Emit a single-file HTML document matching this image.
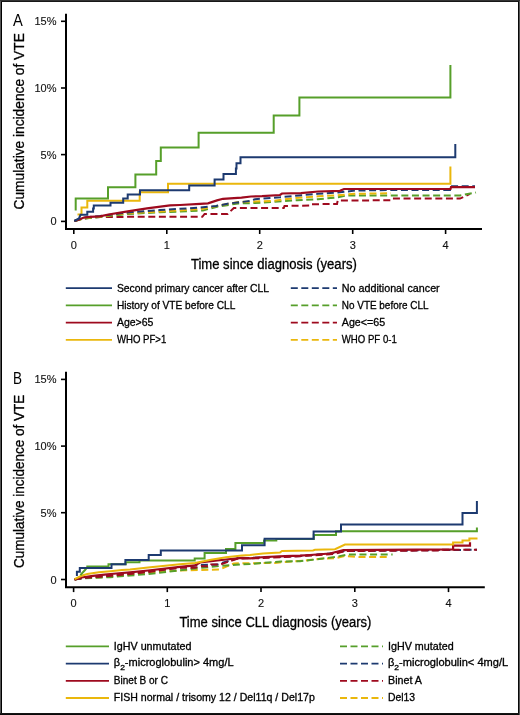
<!DOCTYPE html>
<html><head><meta charset="utf-8"><title>Cumulative incidence of VTE</title>
<style>html,body{margin:0;padding:0;background:#fff;} body{width:520px;height:715px;overflow:hidden;font-family:"Liberation Sans", sans-serif;} svg{display:block;will-change:transform;}</style>
</head><body>
<svg width="520" height="715" viewBox="0 0 520 715">
<rect x="0" y="0" width="520" height="715" fill="#fff"/>
<text x="13.1" y="25.8" font-size="16.5" font-family="Liberation Sans, sans-serif" fill="#000" textLength="9.8" lengthAdjust="spacingAndGlyphs">A</text>
<text transform="translate(23.7,121.35) rotate(-90)" text-anchor="middle" font-size="13.8" font-family="Liberation Sans, sans-serif" fill="#000" stroke="#000" stroke-width="0.3" textLength="176.3" lengthAdjust="spacingAndGlyphs">Cumulative incidence of VTE</text>
<text x="273.9" y="268.7" text-anchor="middle" font-size="13.8" font-family="Liberation Sans, sans-serif" fill="#000" stroke="#000" stroke-width="0.3" textLength="166" lengthAdjust="spacingAndGlyphs">Time since diagnosis (years)</text>
<line x1="66" y1="13.7" x2="66" y2="230" stroke="#000" stroke-width="2"/>
<line x1="65" y1="229.1" x2="482" y2="229.1" stroke="#000" stroke-width="2"/>
<line x1="61" y1="21.3" x2="66" y2="21.3" stroke="#000" stroke-width="1.6"/>
<text x="56.5" y="25.3" text-anchor="end" font-size="11" font-family="Liberation Sans, sans-serif" fill="#111" stroke="#111" stroke-width="0.12">15%</text>
<line x1="61" y1="88" x2="66" y2="88" stroke="#000" stroke-width="1.6"/>
<text x="56.5" y="92" text-anchor="end" font-size="11" font-family="Liberation Sans, sans-serif" fill="#111" stroke="#111" stroke-width="0.12">10%</text>
<line x1="61" y1="154.6" x2="66" y2="154.6" stroke="#000" stroke-width="1.6"/>
<text x="56.5" y="158.6" text-anchor="end" font-size="11" font-family="Liberation Sans, sans-serif" fill="#111" stroke="#111" stroke-width="0.12">5%</text>
<line x1="61" y1="221.4" x2="66" y2="221.4" stroke="#000" stroke-width="1.6"/>
<text x="56.5" y="225.4" text-anchor="end" font-size="11" font-family="Liberation Sans, sans-serif" fill="#111" stroke="#111" stroke-width="0.12">0</text>
<line x1="73.8" y1="229" x2="73.8" y2="234" stroke="#000" stroke-width="1.6"/>
<text x="73.8" y="248.8" text-anchor="middle" font-size="11" font-family="Liberation Sans, sans-serif" fill="#111" stroke="#111" stroke-width="0.12">0</text>
<line x1="166.8" y1="229" x2="166.8" y2="234" stroke="#000" stroke-width="1.6"/>
<text x="166.8" y="248.8" text-anchor="middle" font-size="11" font-family="Liberation Sans, sans-serif" fill="#111" stroke="#111" stroke-width="0.12">1</text>
<line x1="259.7" y1="229" x2="259.7" y2="234" stroke="#000" stroke-width="1.6"/>
<text x="259.7" y="248.8" text-anchor="middle" font-size="11" font-family="Liberation Sans, sans-serif" fill="#111" stroke="#111" stroke-width="0.12">2</text>
<line x1="352.7" y1="229" x2="352.7" y2="234" stroke="#000" stroke-width="1.6"/>
<text x="352.7" y="248.8" text-anchor="middle" font-size="11" font-family="Liberation Sans, sans-serif" fill="#111" stroke="#111" stroke-width="0.12">3</text>
<line x1="445.6" y1="229" x2="445.6" y2="234" stroke="#000" stroke-width="1.6"/>
<text x="445.6" y="248.8" text-anchor="middle" font-size="11" font-family="Liberation Sans, sans-serif" fill="#111" stroke="#111" stroke-width="0.12">4</text>
<text x="13.1" y="383.9" font-size="16.5" font-family="Liberation Sans, sans-serif" fill="#000" textLength="9.0" lengthAdjust="spacingAndGlyphs">B</text>
<text transform="translate(23.7,481.30) rotate(-90)" text-anchor="middle" font-size="13.8" font-family="Liberation Sans, sans-serif" fill="#000" stroke="#000" stroke-width="0.3" textLength="173.2" lengthAdjust="spacingAndGlyphs">Cumulative incidence of VTE</text>
<text x="275.4" y="626.8" text-anchor="middle" font-size="13.8" font-family="Liberation Sans, sans-serif" fill="#000" stroke="#000" stroke-width="0.3" textLength="192" lengthAdjust="spacingAndGlyphs">Time since CLL diagnosis (years)</text>
<line x1="66" y1="371.8" x2="66" y2="588.1" stroke="#000" stroke-width="2"/>
<line x1="65" y1="587.2" x2="484.8" y2="587.2" stroke="#000" stroke-width="2"/>
<line x1="61" y1="379.40000000000003" x2="66" y2="379.40000000000003" stroke="#000" stroke-width="1.6"/>
<text x="56.5" y="383.40000000000003" text-anchor="end" font-size="11" font-family="Liberation Sans, sans-serif" fill="#111" stroke="#111" stroke-width="0.12">15%</text>
<line x1="61" y1="446.1" x2="66" y2="446.1" stroke="#000" stroke-width="1.6"/>
<text x="56.5" y="450.1" text-anchor="end" font-size="11" font-family="Liberation Sans, sans-serif" fill="#111" stroke="#111" stroke-width="0.12">10%</text>
<line x1="61" y1="512.7" x2="66" y2="512.7" stroke="#000" stroke-width="1.6"/>
<text x="56.5" y="516.7" text-anchor="end" font-size="11" font-family="Liberation Sans, sans-serif" fill="#111" stroke="#111" stroke-width="0.12">5%</text>
<line x1="61" y1="579.5" x2="66" y2="579.5" stroke="#000" stroke-width="1.6"/>
<text x="56.5" y="583.5" text-anchor="end" font-size="11" font-family="Liberation Sans, sans-serif" fill="#111" stroke="#111" stroke-width="0.12">0</text>
<line x1="73.6" y1="587.1" x2="73.6" y2="592.1" stroke="#000" stroke-width="1.6"/>
<text x="73.6" y="606.9000000000001" text-anchor="middle" font-size="11" font-family="Liberation Sans, sans-serif" fill="#111" stroke="#111" stroke-width="0.12">0</text>
<line x1="167.3" y1="587.1" x2="167.3" y2="592.1" stroke="#000" stroke-width="1.6"/>
<text x="167.3" y="606.9000000000001" text-anchor="middle" font-size="11" font-family="Liberation Sans, sans-serif" fill="#111" stroke="#111" stroke-width="0.12">1</text>
<line x1="261.0" y1="587.1" x2="261.0" y2="592.1" stroke="#000" stroke-width="1.6"/>
<text x="261.0" y="606.9000000000001" text-anchor="middle" font-size="11" font-family="Liberation Sans, sans-serif" fill="#111" stroke="#111" stroke-width="0.12">2</text>
<line x1="354.8" y1="587.1" x2="354.8" y2="592.1" stroke="#000" stroke-width="1.6"/>
<text x="354.8" y="606.9000000000001" text-anchor="middle" font-size="11" font-family="Liberation Sans, sans-serif" fill="#111" stroke="#111" stroke-width="0.12">3</text>
<line x1="448.5" y1="587.1" x2="448.5" y2="592.1" stroke="#000" stroke-width="1.6"/>
<text x="448.5" y="606.9000000000001" text-anchor="middle" font-size="11" font-family="Liberation Sans, sans-serif" fill="#111" stroke="#111" stroke-width="0.12">4</text>
<path d="M 74.5,221 L 80,219.2 L 88,218 L 96,217.3 L 100,216.9 L 202.3,216.8 L 204.6,213.9 L 227.7,213.9 L 233.8,208 L 283.8,207.9 L 284.5,206 L 310.8,205.5 L 311.5,204.2 L 337,204 L 337.7,200.5 L 391,200.3 L 392,198.6 L 460,198.6 L 470,193.8" transform="translate(0,0)" fill="none" stroke="#9e0a1e" stroke-width="2" stroke-dasharray="7,3.6" stroke-linejoin="miter" stroke-linecap="butt"/>
<path d="M 74.5,221 L 85,218.5 L 100,217 L 128,214 L 160,212.3 L 180,211.5 L 203,210.4 L 218,206.5 L 238,203.5 L 255,203 L 278,201.5 L 297,200.2 L 318,199.2 L 338,197.3 L 347,195.4 L 460,195.5 L 476,192.5" transform="translate(0,0)" fill="none" stroke="#569f2a" stroke-width="2" stroke-dasharray="7,3.6" stroke-linejoin="miter" stroke-linecap="butt"/>
<path d="M 74.5,221 L 85,218 L 100,216.5 L 128,213.2 L 160,211.5 L 180,210.4 L 203,208.8 L 218,205.8 L 238,202 L 255,201.5 L 274,200.8 L 293,198.3 L 318,196.3 L 336,195.4 L 355,193.8 L 391,193.3" transform="translate(0,0)" fill="none" stroke="#eab70c" stroke-width="2" stroke-dasharray="7,3.6" stroke-linejoin="miter" stroke-linecap="butt"/>
<path d="M 74.5,221 L 85,217.5 L 100,216 L 128,212.5 L 160,210 L 180,208.8 L 200,207.5 L 216,206 L 229,203.5 L 250,201 L 255,199.2 L 280,197.3 L 299,195.4 L 318,193.8 L 338,192.5 L 355,190.6 L 390,190 L 450,190 L 451,186.3 L 475,186.3" transform="translate(0,0)" fill="none" stroke="#1d3a70" stroke-width="2" stroke-dasharray="7,3.6" stroke-linejoin="miter" stroke-linecap="butt"/>
<path d="M 74.5,221 L 79,219.5 L 84,217.5 L 90,216.8 L 100,216.3 L 108.5,214.5 L 127.7,211.3 L 147,208.3 L 170,205.4 L 180,205 L 200,203.8 L 208,203.3 L 217,200.4 L 223,198.8 L 241.5,197.6 L 251,196.5 L 262,196.2 L 280,195 L 282,193.5 L 301,193.1 L 318,191.5 L 340,190.8 L 344,189 L 450.5,189 L 451,187.2 L 475,187.2" transform="translate(0,0)" fill="none" stroke="#9e0a1e" stroke-width="2.2" stroke-linejoin="miter" stroke-linecap="butt"/>
<path d="M 77.5 214.4 H 81.5 V 207.5 H 87.3 V 200.8 H 139.7 V 192.3 H 168 V 183.7 H 450.4 V 166.5" transform="translate(0,0)" fill="none" stroke="#eab70c" stroke-width="2" stroke-linejoin="miter" stroke-linecap="butt"/>
<path d="M 74.3 221 L 79 218.5 L 80.5 214.8 H 87.3 V 211.8 H 93.1 V 208.4 H 93.8 V 205.6 H 110.5 V 202.7 H 123.2 V 198.5 H 127.7 V 194.6 H 140 V 190.3 H 189.2 V 185.6 H 214.6 V 179.5 H 223.5 V 174.1 H 235.9 V 168.6 H 236.5 V 163.2 H 240.5 V 157.2 H 455.3 V 144" transform="translate(0,0)" fill="none" stroke="#1d3a70" stroke-width="2" stroke-linejoin="miter" stroke-linecap="butt"/>
<path d="M 75.7 210.6 V 198.6 H 108 V 187.3 H 135.4 V 174.6 H 156.2 V 161 H 160.8 V 147.4 H 198.6 V 132.7 H 273.7 V 115.6 H 299.4 V 97.6 H 450.4 V 65" transform="translate(0,0)" fill="none" stroke="#569f2a" stroke-width="2" stroke-linejoin="miter" stroke-linecap="butt"/>
<path d="M 74.6,579.5 L 82,578 L 100,577.2 L 110,576.2 L 130,574.5 L 148,572.3 L 180,570.5 L 220,569.5 L 224.6,567.4 L 230.8,564.6 L 234,563.4 L 275,563 L 281,562.2 L 293,561.5 L 305,560.5 L 320,558.8 L 335,558.3 L 345,556 L 360,557 L 390,557" transform="translate(0,0)" fill="none" stroke="#eab70c" stroke-width="2" stroke-dasharray="7,3.6" stroke-linejoin="miter" stroke-linecap="butt"/>
<path d="M 74.6,579.5 L 85,578.2 L 110,577.2 L 130,575.5 L 148,574 L 200,568 L 220,566 L 232,565 L 250,564 L 281,561.5 L 300,561.2 L 315,559.5 L 335,557 L 348,554.6 L 392.6,554.6" transform="translate(0,0)" fill="none" stroke="#569f2a" stroke-width="2" stroke-dasharray="7,3.6" stroke-linejoin="miter" stroke-linecap="butt"/>
<path d="M 74.6,579.5 L 85,577.5 L 100,576 L 130,573.5 L 148,571.5 L 200,565 L 217,564.6 L 229,560.8 L 238,558.3 L 260,557.5 L 300,556 L 335,553 L 345,551 L 453,550 L 477,549.7" transform="translate(0,0)" fill="none" stroke="#1d3a70" stroke-width="2" stroke-dasharray="7,3.6" stroke-linejoin="miter" stroke-linecap="butt"/>
<path d="M 74.6,579.5 L 85,577.8 L 100,576.8 L 130,574 L 148,572 L 180,567.7 L 195,567.7 L 201.5,566.2 L 210,566.2 L 211,564.6 L 220,564.6 L 229,561.5 L 238,558.5 L 260,558.2 L 300,556.2 L 335,553.8 L 345,551 L 440,550.5 L 441,549.8 L 477,549.8" transform="translate(0,0)" fill="none" stroke="#9e0a1e" stroke-width="2" stroke-dasharray="7,3.6" stroke-linejoin="miter" stroke-linecap="butt"/>
<path d="M 74.6,579.5 L 81.5,577.5 L 93,575.8 L 104.6,574.6 L 116.2,573.5 L 130,572.3 L 148,570.5 L 180,566.9 L 195,565.4 L 200,562.5 L 211,561.2 L 226,559.5 L 242,557.8 L 250,558.3 L 265,557 L 285,556.2 L 300,555.7 L 310,555 L 330,553.5 L 343.4,550.1 L 453.1,549.4 L 453.1,545.6 L 470,545.6 L 470,542.2" transform="translate(0,0)" fill="none" stroke="#9e0a1e" stroke-width="2.2" stroke-linejoin="miter" stroke-linecap="butt"/>
<path d="M 74.6,579.2 L 78,577.5 L 81.5,575.8 L 87.3,574 L 98.8,572.3 L 110.4,571.2 L 122,570 L 130,569.4 L 148,567.6 L 180,564.3 L 195,563 L 211,559.7 L 226,557.2 L 242,555.5 L 250,555 L 263,553.5 L 280,552.5 L 282,551 L 313,550.5 L 315,549.8 L 335,549.2 L 345,544.5 L 453.1,544.5 L 453.1,542.5 L 462.5,542.5 L 462.5,540.6 L 469.4,540.6 L 469.4,538.5 L 477.5,538.5" transform="translate(0,0)" fill="none" stroke="#eab70c" stroke-width="2" stroke-linejoin="miter" stroke-linecap="butt"/>
<path d="M 80.4 575.2 L 85 570 L 87.3 567.1 V 566.5 H 108.5 V 564.2 H 125.7 V 562.3 H 139.5 V 560.6 H 194.7 V 558.5 H 204.6 V 553 H 226 V 548.9 H 235.4 V 543 H 264 V 540.5 H 276.3 V 538.9 H 313.8 V 534.9 H 336 V 531.2 H 476.9 V 527.5" transform="translate(0,0)" fill="none" stroke="#569f2a" stroke-width="2" stroke-linejoin="miter" stroke-linecap="butt"/>
<path d="M 76.9 576 V 571.7 H 79.8 V 568 H 111.5 V 564.2 H 125.4 V 560 H 148.7 V 555 H 160.8 V 550.6 H 242 V 545.2 H 264.6 V 538.8 H 313.6 V 531.6 H 341 V 524.6 H 462.5 V 513.1 H 476.9 V 501" transform="translate(0,0)" fill="none" stroke="#1d3a70" stroke-width="2" stroke-linejoin="miter" stroke-linecap="butt"/>
<line x1="65.8" y1="288.1" x2="112" y2="288.1" stroke="#1d3a70" stroke-width="1.8"/>
<text x="116.9" y="291.7" font-size="11" font-family="Liberation Sans, sans-serif" fill="#000" stroke="#000" stroke-width="0.3" textLength="152.2" lengthAdjust="spacingAndGlyphs">Second primary cancer after CLL</text>
<line x1="65.8" y1="305.4" x2="112" y2="305.4" stroke="#569f2a" stroke-width="1.8"/>
<text x="116.9" y="308.7" font-size="11" font-family="Liberation Sans, sans-serif" fill="#000" stroke="#000" stroke-width="0.3" textLength="118.4" lengthAdjust="spacingAndGlyphs">History of VTE before CLL</text>
<line x1="65.8" y1="322.6" x2="112" y2="322.6" stroke="#9e0a1e" stroke-width="1.8"/>
<text x="116.9" y="326.0" font-size="11" font-family="Liberation Sans, sans-serif" fill="#000" stroke="#000" stroke-width="0.3" textLength="36.5" lengthAdjust="spacingAndGlyphs">Age&gt;65</text>
<line x1="65.8" y1="339.8" x2="112" y2="339.8" stroke="#eab70c" stroke-width="1.8"/>
<text x="116.9" y="342.8" font-size="11" font-family="Liberation Sans, sans-serif" fill="#000" stroke="#000" stroke-width="0.3" textLength="49.4" lengthAdjust="spacingAndGlyphs">WHO PF&gt;1</text>
<line x1="290.8" y1="288.1" x2="337" y2="288.1" stroke="#1d3a70" stroke-width="1.8" stroke-dasharray="7,3.5"/>
<text x="341.8" y="291.7" font-size="11" font-family="Liberation Sans, sans-serif" fill="#000" stroke="#000" stroke-width="0.3" textLength="97.9" lengthAdjust="spacingAndGlyphs">No additional cancer</text>
<line x1="290.8" y1="305.4" x2="337" y2="305.4" stroke="#569f2a" stroke-width="1.8" stroke-dasharray="7,3.5"/>
<text x="341.8" y="308.7" font-size="11" font-family="Liberation Sans, sans-serif" fill="#000" stroke="#000" stroke-width="0.3" textLength="86.7" lengthAdjust="spacingAndGlyphs">No VTE before CLL</text>
<line x1="290.8" y1="322.6" x2="337" y2="322.6" stroke="#9e0a1e" stroke-width="1.8" stroke-dasharray="7,3.5"/>
<text x="341.8" y="326.0" font-size="11" font-family="Liberation Sans, sans-serif" fill="#000" stroke="#000" stroke-width="0.3" textLength="43.3" lengthAdjust="spacingAndGlyphs">Age&lt;=65</text>
<line x1="290.8" y1="339.8" x2="337" y2="339.8" stroke="#eab70c" stroke-width="1.8" stroke-dasharray="7,3.5"/>
<text x="341.8" y="342.8" font-size="11" font-family="Liberation Sans, sans-serif" fill="#000" stroke="#000" stroke-width="0.3" textLength="55" lengthAdjust="spacingAndGlyphs">WHO PF 0-1</text>
<line x1="65.8" y1="646.4" x2="109" y2="646.4" stroke="#569f2a" stroke-width="1.8"/>
<text x="113.8" y="649.6" font-size="10.4" font-family="Liberation Sans, sans-serif" fill="#000" stroke="#000" stroke-width="0.3" textLength="77.6" lengthAdjust="spacingAndGlyphs">IgHV unmutated</text>
<line x1="65.8" y1="663.6" x2="109" y2="663.6" stroke="#1d3a70" stroke-width="1.8"/>
<text x="113.8" y="666.3" font-size="10.4" font-family="Liberation Sans, sans-serif" fill="#000" stroke="#000" stroke-width="0.3" textLength="119.8" lengthAdjust="spacingAndGlyphs">β<tspan font-size="8" dy="3.2">2</tspan><tspan dy="-3.2">-microglobulin&gt; 4mg/L</tspan></text>
<line x1="65.8" y1="680.8" x2="109" y2="680.8" stroke="#9e0a1e" stroke-width="1.8"/>
<text x="113.8" y="683.8" font-size="10.4" font-family="Liberation Sans, sans-serif" fill="#000" stroke="#000" stroke-width="0.3" textLength="54.1" lengthAdjust="spacingAndGlyphs">Binet B or C</text>
<line x1="65.8" y1="698.0" x2="109" y2="698.0" stroke="#eab70c" stroke-width="1.8"/>
<text x="113.8" y="700.8" font-size="10.4" font-family="Liberation Sans, sans-serif" fill="#000" stroke="#000" stroke-width="0.3" textLength="201" lengthAdjust="spacingAndGlyphs">FISH normal / trisomy 12 / Del11q / Del17p</text>
<line x1="340" y1="646.4" x2="383" y2="646.4" stroke="#569f2a" stroke-width="1.8" stroke-dasharray="7,3.5"/>
<text x="388" y="649.6" font-size="10.4" font-family="Liberation Sans, sans-serif" fill="#000" stroke="#000" stroke-width="0.3" textLength="65.6" lengthAdjust="spacingAndGlyphs">IgHV mutated</text>
<line x1="340" y1="663.6" x2="383" y2="663.6" stroke="#1d3a70" stroke-width="1.8" stroke-dasharray="7,3.5"/>
<text x="388" y="666.3" font-size="10.4" font-family="Liberation Sans, sans-serif" fill="#000" stroke="#000" stroke-width="0.3" textLength="120.1" lengthAdjust="spacingAndGlyphs">β<tspan font-size="8" dy="3.2">2</tspan><tspan dy="-3.2">-microglobulin&lt; 4mg/L</tspan></text>
<line x1="340" y1="680.8" x2="383" y2="680.8" stroke="#9e0a1e" stroke-width="1.8" stroke-dasharray="7,3.5"/>
<text x="388" y="683.8" font-size="10.4" font-family="Liberation Sans, sans-serif" fill="#000" stroke="#000" stroke-width="0.3" textLength="33.9" lengthAdjust="spacingAndGlyphs">Binet A</text>
<line x1="340" y1="698.0" x2="383" y2="698.0" stroke="#eab70c" stroke-width="1.8" stroke-dasharray="7,3.5"/>
<text x="388" y="700.8" font-size="10.4" font-family="Liberation Sans, sans-serif" fill="#000" stroke="#000" stroke-width="0.3" textLength="27.1" lengthAdjust="spacingAndGlyphs">Del13</text>
<rect x="0" y="0" width="1" height="715" fill="#555"/><rect x="1" y="0" width="1" height="715" fill="#000"/>
<rect x="518" y="0" width="1" height="715" fill="#080808"/><rect x="519" y="0" width="1" height="715" fill="#555"/>
<rect x="0" y="0" width="520" height="1" fill="#333"/><rect x="1" y="1" width="518" height="1" fill="#171717"/>
<rect x="0" y="713" width="519" height="1" fill="#151515"/><rect x="0" y="714" width="519" height="1" fill="#0a0a0a"/>
</svg>
</body></html>
